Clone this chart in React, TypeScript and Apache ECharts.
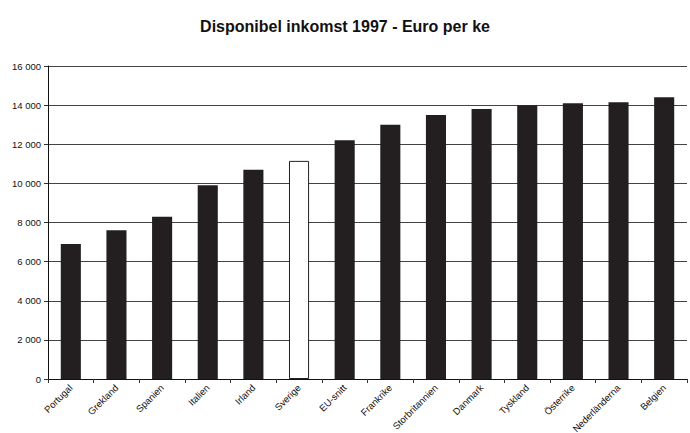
import React, { useEffect, useRef } from "react";
import * as echarts from "echarts";

const countries = [
  "Portugal", "Grekland", "Spanien", "Italien", "Irland", "Sverige", "EU-snitt",
  "Frankrike", "Storbritannien", "Danmark", "Tyskland", "Österrike", "Nederländerna", "Belgien",
];
const incomes = [6900, 7600, 8300, 9900, 10700, 11150, 12200, 13000, 13500, 13800, 14000, 14100, 14150, 14400];
const highlighted = ["Sverige"];
const yTicks = [0, 2000, 4000, 6000, 8000, 10000, 12000, 14000, 16000];
const titleText = "Disponibel inkomst 1997 - Euro per ke";

export default function App() {
  const ref = useRef<HTMLDivElement>(null);
  useEffect(() => {
    if (!ref.current) return;
    const chart = echarts.init(ref.current, undefined, { renderer: "svg" });
    chart.setOption({
      animation: false,
      backgroundColor: "#ffffff",
      title: {
        text: titleText,
        left: "center",
        top: 13,
        textStyle: { fontFamily: "Liberation Sans", fontSize: 16, fontWeight: "bold", color: "#111" },
      },
      grid: { left: 48, right: 3, top: 66, bottom: 54, containLabel: false, outerBoundsMode: "none" },
      xAxis: {
        type: "category",
        data: countries,
        axisLine: { lineStyle: { color: "#111", width: 1 } },
        axisTick: { show: true, length: 4, lineStyle: { color: "#333" } },
        axisLabel: {
          rotate: 45,
          interval: 0,
          fontFamily: "Liberation Sans",
          fontSize: 9.5,
          color: "#111",
          margin: 7,
        },
      },
      yAxis: {
        type: "value",
        min: yTicks[0],
        max: yTicks[yTicks.length - 1],
        interval: 2000,
        axisLine: { show: true, lineStyle: { color: "#111", width: 1 } },
        axisTick: { show: true, length: 4, lineStyle: { color: "#333" } },
        splitLine: { show: true, lineStyle: { color: "#444", width: 1 } },
        axisLabel: {
          fontFamily: "Liberation Sans",
          fontSize: 9.5,
          color: "#111",
          margin: 7,
          formatter: (v: number) => v.toLocaleString("en-US").replace(/,/g, " "),
        },
      },
      series: [
        {
          type: "bar",
          barWidth: "44%",
          data: incomes.map((v, i) =>
            highlighted.includes(countries[i])
              ? { value: v, itemStyle: { color: "#ffffff", borderColor: "#222", borderWidth: 1 } }
              : { value: v, itemStyle: { color: "#231f20" } }
          ),
        },
      ],
    });
    return () => chart.dispose();
  }, []);
  return <div ref={ref} style={{ width: 690, height: 433, position: "absolute", left: 0, top: 0 }} />;
}
